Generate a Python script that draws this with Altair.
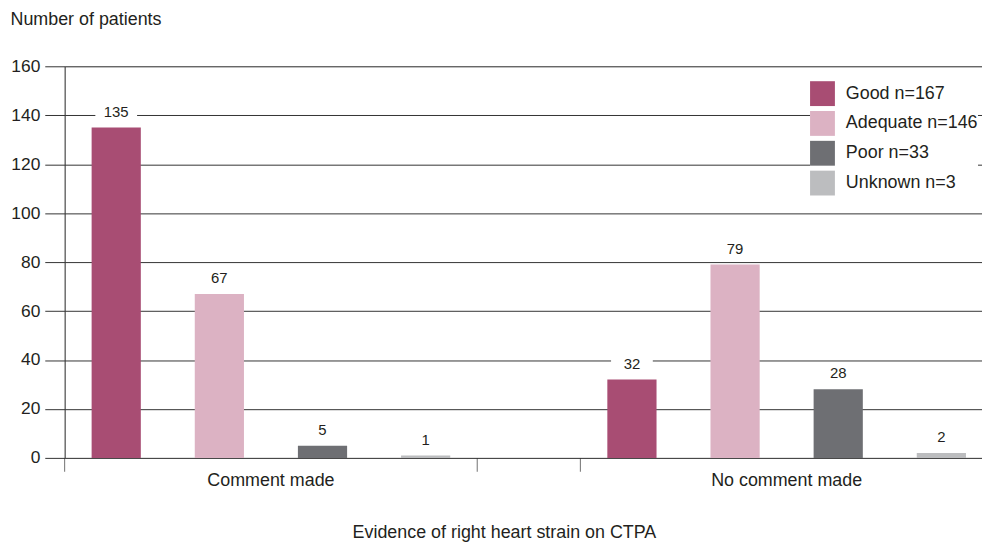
import altair as alt
import pandas as pd

groups = ["Comment made", "No comment made"]
qualities = ["Good n=167", "Adequate n=146", "Poor n=33", "Unknown n=3"]
comment_made = [135, 67, 5, 1]
no_comment_made = [32, 79, 28, 2]
colors = ["#A84D73", "#DCB2C3", "#6E6F73", "#BCBDBF"]
y_ticks = [0, 20, 40, 60, 80, 100, 120, 140, 160]

rows = []
for g, vals in zip(groups, [comment_made, no_comment_made]):
    for q, v in zip(qualities, vals):
        rows.append({"group": g, "quality": q, "value": v})
df = pd.DataFrame(rows)
df_groups = pd.DataFrame({"group": groups})

FONT = "Liberation Sans"
TXT = "#231f20"
GRID = "#333333"

x_enc = alt.X("group:N", sort=groups,
              scale=alt.Scale(paddingInner=0.2, paddingOuter=0, range=[0, 934]),
              axis=alt.Axis(title="Evidence of right heart strain on CTPA", labelAngle=0,
                            bandPosition=0.5, labelAlign="center",
                            ticks=False, domain=False,
                            labelFontSize=18, labelColor=TXT, labelFont=FONT, labelPadding=23,
                            titleFontSize=18, titleFont=FONT, titleColor=TXT, titleFontWeight="normal",
                            titleX=442, titleY=75, titleAnchor="start", titleAlign="center",
                            titleBaseline="middle"))
y_enc = alt.Y("value:Q", scale=alt.Scale(domain=[0, 160]),
              axis=alt.Axis(values=y_ticks, title="Number of patients", titleAngle=0,
                            titleAlign="left", titleX=-55, titleY=-42, titleBaseline="alphabetic",
                            titleFontSize=18, titleFont=FONT, titleColor=TXT, titleFontWeight="normal",
                            labelFontSize=17.5, labelFont=FONT, labelColor=TXT, labelPadding=5,
                            tickSize=20, tickColor=GRID, domainColor=GRID,
                            grid=True, gridColor=GRID, gridWidth=1))

xo = alt.XOffset("quality:N", sort=qualities, scale=alt.Scale(paddingInner=0.523, paddingOuter=0.2615))

bars = alt.Chart(df).mark_bar().encode(
    x=x_enc, y=y_enc, xOffset=xo,
    color=alt.Color("quality:N", sort=qualities,
                    scale=alt.Scale(domain=qualities, range=colors),
                    legend=alt.Legend(title=None, orient="none", legendX=750, legendY=15,
                                      symbolType="square", symbolSize=625, symbolStrokeWidth=0,
                                      symbolOpacity=1,
                                      labelFontSize=18, labelFont=FONT, labelColor=TXT,
                                      labelOffset=11, rowPadding=5, fillColor="white", padding=0))
)

boxes = alt.Chart(df).mark_tick(color="white", size=42, thickness=16, yOffset=-16, opacity=1).encode(
    x=alt.X("group:N", sort=groups), y="value:Q", xOffset=alt.XOffset("quality:N", sort=qualities)
)

labels = alt.Chart(df).mark_text(dy=-16, baseline="middle", fontSize=15, font=FONT, color=TXT).encode(
    x=alt.X("group:N", sort=groups), y="value:Q", xOffset=alt.XOffset("quality:N", sort=qualities),
    text="value:Q"
)

tick_start = alt.Chart(df_groups).mark_tick(orient="vertical", size=14, thickness=1, yOffset=7, color=GRID).encode(
    x=alt.X("group:N", sort=groups, bandPosition=0), y=alt.datum(0)
)
tick_end = alt.Chart(df_groups).transform_filter(
    alt.datum.group == groups[0]
).mark_tick(orient="vertical", size=14, thickness=1, yOffset=7, color=GRID).encode(
    x=alt.X("group:N", sort=groups, bandPosition=1), y=alt.datum(0)
)

chart = alt.layer(boxes, bars, labels, tick_start, tick_end).properties(
    width=923, height=394,
    autosize=alt.AutoSizeParams(type="none"),
    padding={"left": 57, "top": 57, "right": 0, "bottom": 86},
).configure_view(stroke=None).configure(background="white")

chart.save("out.html", embed_options={"renderer": "svg", "actions": False})
